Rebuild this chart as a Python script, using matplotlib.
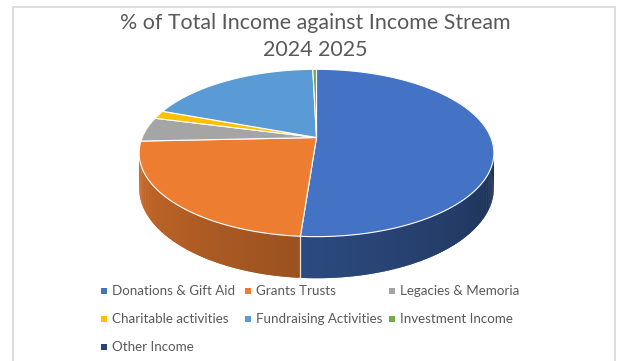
import numpy as np
import matplotlib
matplotlib.use("Agg")
from matplotlib import pyplot as plt
from matplotlib.colors import to_rgb

# income share per stream, in percent
labels = [
    "Donations & Gift Aid", "Grants Trusts", "Legacies & Memoria",
    "Charitable activities", "Fundraising Activities", "Investment Income",
    "Other Income",
]
shares = [51.2, 23.1, 4.7, 1.6, 19.0, 0.4, 0.0]
colors = ["#4472C4", "#ED7D31", "#A5A5A5", "#FFC000", "#5B9BD5", "#70AD47", "#264478"]

title_lines = ["% of Total Income against Income Stream", "2024 2025"]

TEXT = "#595959"
FONT = ["Lato", "DejaVu Sans"]

# pie geometry in pixel space (y grows downward)
CX, CY = 316.5, 137.5
RX = 174.3       # horizontal radius
A = 80.8         # vertical radius term
K = 0.185        # perspective strength
T = 33.9         # slab thickness


def project(theta, z):
    """theta clockwise from 12 o'clock, z=0 top face, z=1 bottom face"""
    u = np.sin(theta)
    v = np.cos(theta)
    s = 1.0 / (1.0 + K * v)
    x = CX + RX * u * s
    y = CY - A * v * s + T * z * s
    return x, y


def shade(theta_deg):
    f = 0.40 + 0.48 * (theta_deg - 90.0) / 180.0
    return min(max(f, 0.40), 0.88)


fig = plt.figure(figsize=(6.22, 3.61), dpi=100)
ax = fig.add_axes([0, 0, 1, 1])
ax.set_xlim(0, 622)
ax.set_ylim(361, 0)
ax.axis("off")

# chart frame
ax.plot([13.3, 13.3, 615.3, 615.3], [361, 7, 7, 361], color="#D9D9D9", lw=1.3,
        solid_joinstyle="miter", zorder=1)

total = sum(shares)
bounds = np.concatenate([[0.0], np.cumsum(shares)]) / total * 360.0

# side wall, only the front half shows; strips overlap a little so no seams
for (a0, a1), c in zip(zip(bounds[:-1], bounds[1:]), colors):
    if a1 - a0 <= 0:
        continue
    lo, hi = max(a0, 60.0), min(a1, 300.0)
    if hi <= lo:
        continue
    steps = np.linspace(lo, hi, max(int((hi - lo) / 0.75) + 2, 2))
    base = np.array(to_rgb(c))
    for t0, t1 in zip(steps[:-1], steps[1:]):
        r0, r1 = np.radians(t0), np.radians(min(t1 + 0.6, hi))
        x0, y0 = project(r0, 0)
        x1, y1 = project(r1, 0)
        x2, y2 = project(r1, 1)
        x3, y3 = project(r0, 1)
        col = base * shade((t0 + t1) / 2)
        ax.fill([x0, x1, x2, x3], [y0, y1, y2, y3], color=col, lw=0, zorder=2)

# slice seams on the wall
for b in bounds[1:-1]:
    if 95 < b < 265:
        r = np.radians(b)
        xs, ys = zip(project(r, 0), project(r, 1))
        ax.plot(xs, ys, color="white", lw=0.9, alpha=0.8, zorder=3)

# top face
for (a0, a1), c in zip(zip(bounds[:-1], bounds[1:]), colors):
    if a1 - a0 <= 0:
        continue
    th = np.radians(np.linspace(a0, a1, max(int(a1 - a0) * 2 + 2, 3)))
    xs, ys = project(th, 0)
    ax.fill(np.r_[CX, xs], np.r_[CY, ys], color=c, ec="white", lw=0.8, zorder=4)

# titles
ax.text(315, 23, title_lines[0], ha="center", va="center", fontsize=15.4,
        color=TEXT, family=FONT)
ax.text(315, 50.5, title_lines[1], ha="center", va="center", fontsize=15.4,
        color=TEXT, family=FONT)

# legend, three per row
for i, (lab, c) in enumerate(zip(labels, colors)):
    row, col = divmod(i, 3)
    x = 104 + col * 144
    y = 291 + row * 28
    ax.scatter([x], [y], marker="s", s=16, color=c, zorder=5, lw=0)
    ax.text(x + 8, y, lab, ha="left", va="center", fontsize=9.6, color=TEXT,
            family=FONT)

fig.savefig("out.png", dpi=100)
